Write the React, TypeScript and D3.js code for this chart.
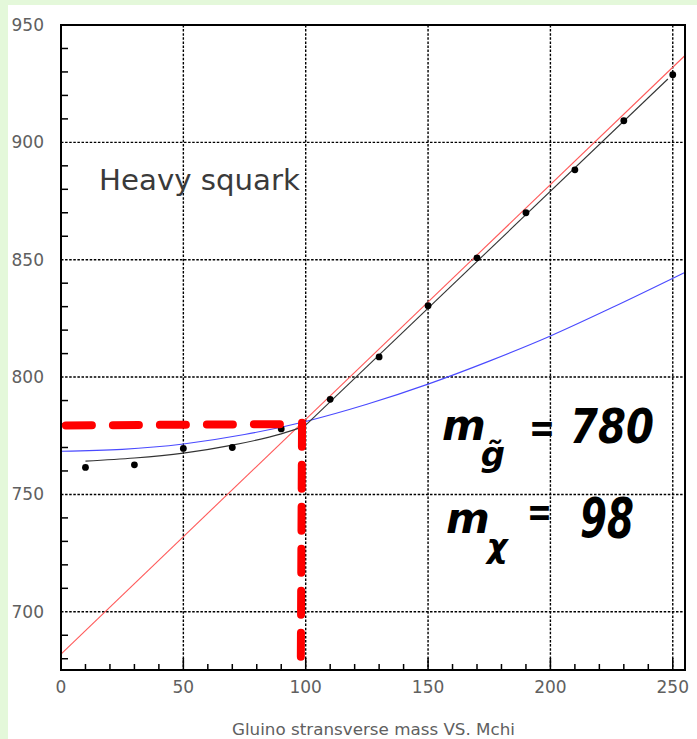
import React from "react";
import * as d3 from "d3";

// Measured points: chi mass (GeV) vs. gluino transverse-mass endpoint
const pointX = [10, 30, 50, 70, 90, 110, 130, 150, 170, 190, 210, 230, 250];
const pointY = [761.5, 762.6, 769.6, 770.0, 777.9, 790.5, 808.6, 830.4, 850.8, 870.0, 888.3, 909.2, 928.8];

// Fit below the kink (black, curved branch)
const fitLowX = [10, 30, 50, 70, 90, 100];
const fitLowY = [764.2, 765.5, 767.6, 771.0, 775.8, 779.2];

// Fit above the kink (black, straight branch)
const fitHighX = [100, 248];
const fitHighY = [779.5, 927];

// Reference line (red)
const redX = [0, 255];
const redY = [682, 937];

// Reference curve (blue)
const blueX = [0, 25, 50, 75, 100, 125, 150, 175, 200, 225, 255];
const blueY = [768.4, 769.2, 771.5, 775.5, 781.1, 788.4, 797.0, 806.8, 817.5, 829.5, 844.6];

// Kink position marked by hand
const kinkX = 98;
const kinkY = 780;

const xTicks = [0, 50, 100, 150, 200, 250];
const yTicks = [700, 750, 800, 850, 900, 950];

const W = 697;
const H = 739;
const left = 61;
const right = 685;
const top = 25;
const bottom = 670;

export default function App() {
  const x = d3.scaleLinear().domain([0, 255]).range([left, right]);
  const y = d3.scaleLinear().domain([675.2, 950]).range([bottom, top]);

  const line = d3
    .line<[number, number]>()
    .x((d) => x(d[0]))
    .y((d) => y(d[1]));
  const smooth = d3
    .line<[number, number]>()
    .x((d) => x(d[0]))
    .y((d) => y(d[1]))
    .curve(d3.curveMonotoneX);

  const zip = (a: number[], b: number[]) => a.map((v, i) => [v, b[i]] as [number, number]);

  const xMinor = d3.range(0, 256, 10).filter((v) => v % 50 !== 0);
  const yMinor = d3.range(680, 950, 10).filter((v) => v % 50 !== 0);

  const grid = "#000";
  const labelColor = "#606060";
  const font = "'DejaVu Sans', sans-serif";
  const hand = "'DejaVu Sans', sans-serif";

  return (
    <svg
      width={W}
      height={H}
      style={{ position: "absolute", left: 0, top: 0, background: "#fff" }}
    >
      <rect x={0} y={0} width={W} height={H} fill="#fff" />
      <rect x={0} y={0} width={W} height={5} fill="#e4f8da" />
      <rect x={0} y={0} width={8} height={H} fill="#e4f8da" />

      {/* grid */}
      {xTicks.slice(1).map((t) => (
        <line
          key={"gx" + t}
          x1={x(t)}
          x2={x(t)}
          y1={top}
          y2={bottom}
          stroke={grid}
          strokeWidth={1.4}
          strokeDasharray="2.5,1.6"
        />
      ))}
      {yTicks.slice(0, -1).map((t) => (
        <line
          key={"gy" + t}
          x1={left}
          x2={right}
          y1={y(t)}
          y2={y(t)}
          stroke={grid}
          strokeWidth={1.4}
          strokeDasharray="2.5,1.6"
        />
      ))}

      {/* minor ticks */}
      {xMinor.map((t) => (
        <line key={"mx" + t} x1={x(t)} x2={x(t)} y1={bottom} y2={bottom - 6} stroke="#000" strokeWidth={1.5} />
      ))}
      {xTicks.map((t) => (
        <line key={"Mx" + t} x1={x(t)} x2={x(t)} y1={bottom} y2={bottom - 12} stroke="#000" strokeWidth={1.5} />
      ))}
      {yMinor.map((t) => (
        <line key={"my" + t} x1={left} x2={left + 7} y1={y(t)} y2={y(t)} stroke="#000" strokeWidth={1.5} />
      ))}

      {/* curves */}
      <path d={smooth(zip(blueX, blueY)) || ""} fill="none" stroke="#4a4aff" strokeWidth={1.1} />
      <path d={line(zip(redX, redY)) || ""} fill="none" stroke="#ff5a5a" strokeWidth={1.1} />
      <path d={smooth(zip(fitLowX, fitLowY)) || ""} fill="none" stroke="#333" strokeWidth={1.1} />
      <path d={line(zip(fitHighX, fitHighY)) || ""} fill="none" stroke="#333" strokeWidth={1.1} />

      {pointX.map((v, i) => (
        <circle key={"p" + i} cx={x(v)} cy={y(pointY[i])} r={3.4} fill="#000" />
      ))}

      {/* frame */}
      <rect x={left} y={top} width={right - left} height={bottom - top} fill="none" stroke="#000" strokeWidth={2} />

      {/* hand-drawn kink marker */}
      <path
        d={`M${x(2)},${y(kinkY - 0.6)} L${x(kinkX)},${y(kinkY)}`}
        fill="none"
        stroke="#ff0000"
        strokeWidth={8}
        strokeLinecap="round"
        strokeDasharray="26,21"
      />
      <path
        d={`M${x(kinkX + 0.5)},${y(kinkY + 0.5)} L${x(kinkX)},${y(679)}`}
        fill="none"
        stroke="#ff0000"
        strokeWidth={8}
        strokeLinecap="round"
        strokeDasharray="24,18"
      />

      {/* tick labels */}
      {yTicks.map((t) => (
        <text
          key={"ly" + t}
          x={44}
          y={y(t)}
          textAnchor="end"
          dominantBaseline="central"
          fontFamily={font}
          fontSize={17}
          fill={labelColor}
        >
          {t}
        </text>
      ))}
      {xTicks.map((t) => (
        <text
          key={"lx" + t}
          x={x(t)}
          y={693}
          textAnchor="middle"
          fontFamily={font}
          fontSize={17}
          fill={labelColor}
        >
          {t}
        </text>
      ))}

      <text x={232} y={735} fontFamily={font} fontSize={15} fill={labelColor} textLength={283} lengthAdjust="spacingAndGlyphs">
        Gluino stransverse mass VS. Mchi
      </text>

      <text x={99} y={190} fontFamily={font} fontSize={29} fill="#3a3a3a" textLength={201} lengthAdjust="spacingAndGlyphs">
        Heavy squark
      </text>

      {/* handwritten annotation */}
      <g fontFamily={hand} fontWeight="bold" fontStyle="italic" fill="#000">
        <text x={442} y={440} fontSize={42}>
          m
          <tspan fontSize={34} dx={-5} dy={26}>
            g̃
          </tspan>
        </text>
        <text x={529} y={442} fontSize={40} textLength={26} lengthAdjust="spacingAndGlyphs">=</text>
        <text x={570} y={443} fontSize={48} textLength={84} lengthAdjust="spacingAndGlyphs">780</text>

        <text x={446} y={533} fontSize={42}>
          m
          <tspan fontSize={32} dx={-3} dy={24}>
            χ
          </tspan>
        </text>
        <text x={527} y={526} fontSize={40} textLength={25} lengthAdjust="spacingAndGlyphs">=</text>
        <text x={580} y={537} fontSize={56} textLength={54} lengthAdjust="spacingAndGlyphs">98</text>
      </g>
    </svg>
  );
}
